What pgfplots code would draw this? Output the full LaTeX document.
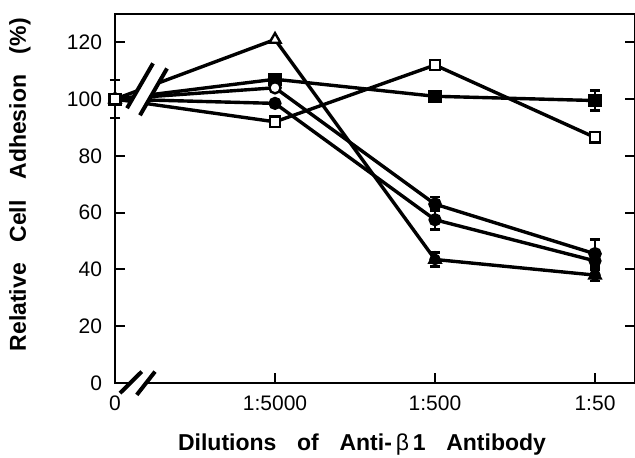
\documentclass[border=0pt]{standalone}
\usepackage{pgfplots}
\pgfplotsset{compat=1.18}
\usepackage{fontspec}
\setmainfont{Liberation Sans}
\begin{document}
\begin{tikzpicture}
\begin{axis}[
  scale only axis, width=260pt, height=184.5pt,
  xmin=0, xmax=3.25, ymin=0, ymax=130,
  xtick={0,1,2,3}, xticklabels={0,1:5000,1:500,1:50},
  ytick={0,20,40,60,80,100,120},
  xtick pos=lower, ytick pos=both,
  tick align=inside,
  major tick length=5pt,
  tick style={line width=1pt, black},
  axis line style={line width=1pt},
  clip=false,
  font=\fontsize{10.5}{12}\selectfont,
  /pgf/number format/assume math mode=true,
  xticklabel style={yshift=-3pt},
  yticklabel style={xshift=-3pt},
  xlabel={\bfseries\fontsize{11.5}{13}\selectfont Dilutions\hspace{0.9em}of\hspace{0.9em}Anti-\,\textmd{β}\,1\hspace{0.9em}Antibody},
  ylabel={\bfseries\fontsize{11.5}{13}\selectfont Relative\hspace{0.9em}Cell\hspace{0.9em}Adhesion\hspace{0.9em}(\%)},
  xlabel style={at={(axis description cs:0.475,-0.168)}, anchor=center},
  ylabel style={at={(axis description cs:-0.183,0.537)}, anchor=center},
  every axis plot/.append style={line width=1.7pt, black},
]
% series A: open triangle
\addplot[mark=triangle*, mark size=3.2pt, mark options={fill=white, line width=1.2pt}]
  coordinates {(0,100) (1,121) (2,43.5) (3,38)};
% series B: filled square
\addplot[mark=square*, mark size=2.8pt, mark options={fill=black, line width=1pt}]
  coordinates {(0,100) (1,107) (2,101) (3,99.5)};
% series C: open circle
\addplot[mark=*, mark size=2.8pt, mark options={fill=white, line width=1.2pt}]
  coordinates {(0,100) (1,104) (2,63) (3,45.5)};
% series D: filled circle
\addplot[mark=*, mark size=2.8pt, mark options={fill=black, line width=1pt}]
  coordinates {(0,100) (1,98.5) (2,57.5) (3,43)};
% series E: open square
\addplot[mark=square*, mark size=2.6pt, mark options={fill=white, line width=1.2pt}]
  coordinates {(0,100) (1,92) (2,112) (3,86.5)};
% error bars
\addplot[only marks, mark=none,
  error bars/.cd, y dir=both, y explicit,
  error bar style={draw=black, line width=1.2pt},
  error mark options={draw=black, rotate=90, mark size=2.6pt, line width=1.2pt}]
  coordinates {(2,43.5) +- (0,2.5) (3,38) +- (0,2)
               (2,101) +- (0,1.5) (3,99.5) +- (0,3.5)
               (2,63) +- (0,2.5) (3,45.5) +- (0,5)
               (2,57.5) +- (0,3.5) (3,43) +- (0,2)};
% common origin point
\addplot[only marks, mark=square*, mark size=2.6pt, mark options={fill=white, line width=1.2pt},
  error bars/.cd, y dir=both, y explicit,
  error bar style={draw=black, line width=1.2pt},
  error mark options={draw=black, rotate=90, mark size=2.6pt, line width=1.2pt}]
  coordinates {(0,100) +- (0,6.7)};
% break on data lines
\fill[white] (axis cs:0.2375,112.6) -- (axis cs:0.075,96.8) -- (axis cs:0.156,94.3) -- (axis cs:0.325,110.8) -- cycle;
\draw[line width=2pt] (axis cs:0.2375,112.6) -- (axis cs:0.075,96.8);
\draw[line width=2pt] (axis cs:0.325,110.8) -- (axis cs:0.156,94.3);
% break on x axis
\fill[white] (axis cs:0.167,4) -- (axis cs:0.031,-3.6) -- (axis cs:0.136,-4.2) -- (axis cs:0.25,4) -- cycle;
\draw[line width=2pt] (axis cs:0.167,4) -- (axis cs:0.031,-3.6);
\draw[line width=2pt] (axis cs:0.25,4) -- (axis cs:0.136,-4.2);
\coordinate (bbSW) at (rel axis cs:-0.2212,-0.2033);
\coordinate (bbNE) at (rel axis cs:1,1.0379);
\end{axis}
\pgfresetboundingbox
\path (bbSW) rectangle (bbNE);
\end{tikzpicture}
\end{document}
